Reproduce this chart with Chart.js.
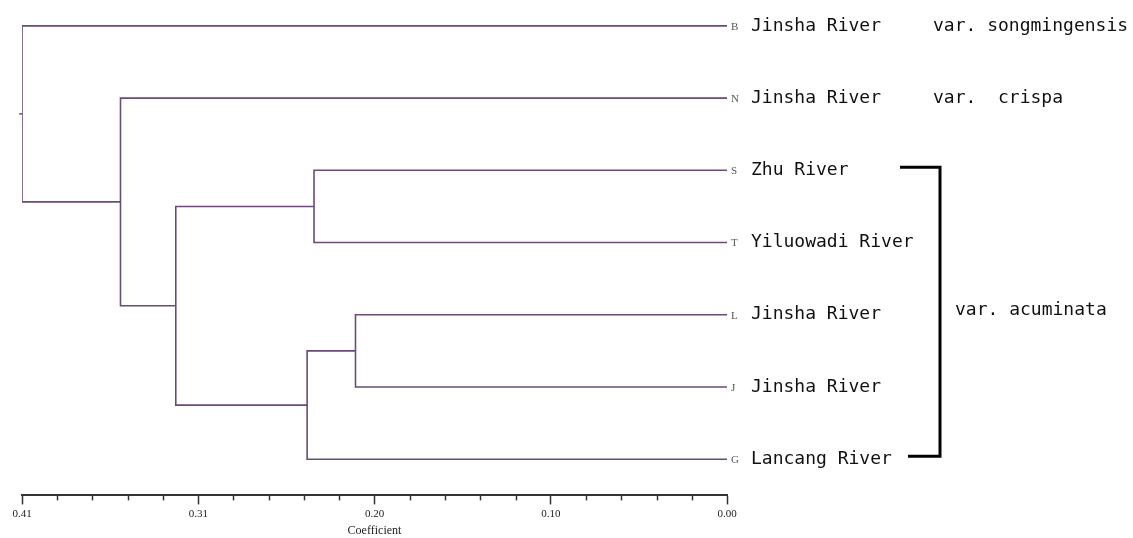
<!DOCTYPE html>
<html>
<head>
<meta charset="utf-8">
<script src="https://cdn.jsdelivr.net/npm/chart.js@4.4.1/dist/chart.umd.min.js"></script>
<style>
  html, body { margin: 0; padding: 0; background: #fff; }
  #wrap { width: 1133px; height: 538px; position: relative; }
</style>
</head>
<body>
<div id="wrap"><canvas id="dendro"></canvas></div>
<script>
// leaves, top to bottom
const leafLetters = ['B', 'N', 'S', 'T', 'L', 'J', 'G'];
const leafNames = ['Jinsha River', 'Jinsha River', 'Zhu River', 'Yiluowadi River', 'Jinsha River', 'Jinsha River', 'Lancang River'];
const leafVarieties = ['var. songmingensis', 'var.  crispa', '', '', '', '', ''];
const groupLabel = 'var. acuminata';
const groupLeaves = [2, 6]; // S .. G

// merges (index >= 7 means an earlier merge), with their coefficient
const mergePairs = [[4, 5], [7, 6], [2, 3], [9, 8], [1, 10], [0, 11]];
const mergeHeights = [0.215, 0.243, 0.239, 0.319, 0.351, 0.408];

// axis
const tickValues = [0, 0.102, 0.204, 0.306, 0.408];
const tickLabels = ['0.00', '0.10', '0.20', '0.31', '0.41'];
const minorStep = 0.0204;

const lineColor = '#6b4a78';

// position (y) and height (x) of every node
const nodeY = leafLetters.map((_, i) => i);
const nodeH = leafLetters.map(() => 0);
const datasets = [];
mergePairs.forEach((pair, k) => {
  const [a, b] = pair;
  const h = mergeHeights[k];
  nodeY.push((nodeY[a] + nodeY[b]) / 2);
  nodeH.push(h);
  datasets.push({
    data: [
      { x: nodeH[a], y: nodeY[a] },
      { x: h, y: nodeY[a] },
      { x: h, y: nodeY[b] },
      { x: nodeH[b], y: nodeY[b] }
    ]
  });
});
// little stub on the root
const rootIdx = nodeY.length - 1;
datasets.push({
  clip: false,
  data: [{ x: nodeH[rootIdx], y: nodeY[rootIdx] }, { x: nodeH[rootIdx] + 0.0015, y: nodeY[rootIdx] }]
});

datasets.forEach(ds => {
  ds.showLine = true;
  ds.borderColor = lineColor;
  ds.borderWidth = 1.6;
  ds.pointRadius = 0;
  ds.pointHoverRadius = 0;
  ds.tension = 0;
});

// labels, bracket and minor ticks
const labelPlugin = {
  id: 'labels',
  afterDraw(chart) {
    const c = chart.ctx;
    const xs = chart.scales.x;
    const ys = chart.scales.y;
    const x0 = xs.getPixelForValue(0);
    c.save();

    // minor ticks on the axis
    c.strokeStyle = '#333';
    c.lineWidth = 1.5;
    const yb = chart.chartArea.bottom;
    for (let i = 1; i * minorStep < 0.408 - 1e-6; i++) {
      if (i % 5 === 0) continue;
      const px = Math.round(xs.getPixelForValue(i * minorStep)) + 0.5;
      c.beginPath();
      c.moveTo(px, yb);
      c.lineTo(px, yb + 5);
      c.stroke();
    }

    c.textBaseline = 'middle';
    leafLetters.forEach((letter, i) => {
      const py = ys.getPixelForValue(i);
      c.fillStyle = '#555';
      c.font = '11px "Liberation Serif", serif';
      c.fillText(letter, x0 + 4, py + 1);
      c.fillStyle = '#111';
      c.font = '18px "DejaVu Sans Mono", monospace';
      c.fillText(leafNames[i], x0 + 24, py);
      if (leafVarieties[i]) c.fillText(leafVarieties[i], x0 + 206, py);
    });

    // bracket around var. acuminata
    const yTop = ys.getPixelForValue(groupLeaves[0]) - 3;
    const yBot = ys.getPixelForValue(groupLeaves[1]) - 3;
    const bx = x0 + 213;
    c.strokeStyle = '#000';
    c.lineWidth = 3;
    c.beginPath();
    c.moveTo(x0 + 173, yTop);
    c.lineTo(bx, yTop);
    c.lineTo(bx, yBot);
    c.lineTo(x0 + 181, yBot);
    c.stroke();
    c.fillStyle = '#111';
    c.font = '18px "DejaVu Sans Mono", monospace';
    c.fillText(groupLabel, bx + 15, (yTop + yBot) / 2 - 1);

    c.restore();
  }
};

new Chart(document.getElementById('dendro'), {
  type: 'scatter',
  data: { datasets },
  options: {
    responsive: true,
    maintainAspectRatio: false,
    animation: false,
    events: [],
    layout: { padding: { left: 22, right: 406, top: 2, bottom: 0 } },
    plugins: {
      legend: { display: false },
      tooltip: { enabled: false }
    },
    scales: {
      x: {
        type: 'linear',
        reverse: true,
        min: 0,
        max: 0.408,
        afterBuildTicks: (scale) => {
          scale.ticks = tickValues.map(v => ({ value: v }));
        },
        ticks: {
          autoSkip: false,
          maxRotation: 0,
          padding: 3,
          color: '#222',
          font: { family: '"Liberation Serif", serif', size: 11 },
          callback: (value) => tickLabels[tickValues.findIndex(v => Math.abs(v - value) < 1e-6)]
        },
        grid: {
          drawOnChartArea: false,
          drawTicks: true,
          tickLength: 9,
          tickColor: '#333',
          tickWidth: 1.5
        },
        border: { display: true, color: '#333', width: 2 },
        title: {
          display: true,
          text: 'Coefficient',
          color: '#222',
          padding: { top: 0, bottom: 0 },
          font: { family: '"Liberation Serif", serif', size: 12 }
        }
      },
      y: {
        type: 'linear',
        display: false,
        reverse: true,
        min: -0.33,
        max: 6.5
      }
    }
  },
  plugins: [labelPlugin]
});
</script>
</body>
</html>
